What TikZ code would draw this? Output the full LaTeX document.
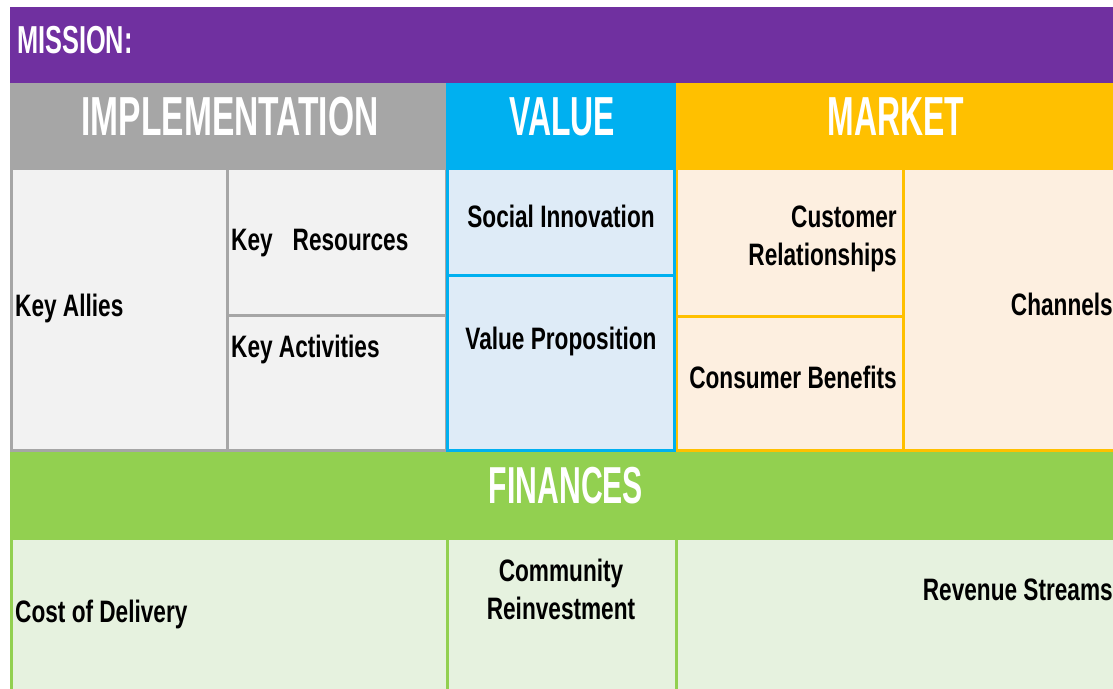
\documentclass[tikz,border=0pt]{standalone}
\usepackage{fontspec}
\setmainfont{Liberation Sans}
\newfontfamily\bannerfont{Liberation Sans Bold}[FakeStretch=0.58]
\newfontfamily\missionfont{Liberation Sans Bold}[FakeStretch=0.65]
\newfontfamily\cellfont{Liberation Sans Bold}[FakeStretch=0.73]
\usetikzlibrary{positioning}
\definecolor{missionPurple}{HTML}{7030A0}
\definecolor{implGray}{HTML}{A6A6A6}
\definecolor{valueBlue}{HTML}{00B0F0}
\definecolor{marketGold}{HTML}{FFC000}
\definecolor{financeGreen}{HTML}{92D050}
\definecolor{implFill}{HTML}{F2F2F2}
\definecolor{valueFill}{HTML}{DEEBF7}
\definecolor{marketFill}{HTML}{FDEFE0}
\definecolor{financeFill}{HTML}{E6F2DF}
\tikzset{
  cv/bar/.style={rectangle, draw=none, anchor=north west,
    inner sep=0pt, outer sep=0pt},
  cv/cell/.style={rectangle, anchor=north west, inner sep=0pt,
    outer sep=0pt, line width=3pt},
  cv/impl/.style={cv/cell, draw=implGray, fill=implFill},
  cv/val/.style={cv/cell, draw=valueBlue, fill=valueFill},
  cv/mkt/.style={cv/cell, draw=marketGold, fill=marketFill},
  cv/fin/.style={cv/cell, draw=financeGreen, fill=financeFill},
  cv/head/.style={font=\bannerfont\fontsize{55}{60}\selectfont,
    text=white, inner sep=0pt, anchor=base},
  cv/txt/.style={font=\cellfont\fontsize{31}{38}\selectfont,
    text=black, inner sep=0pt}
}
\begin{document}
\begin{tikzpicture}[x=1pt, y=-1pt]
  \useasboundingbox[fill=white] (0,0) rectangle (1113,688);
  \clip (0,0) rectangle (1113,688);

  % banners
  \node[cv/bar, fill=missionPurple, minimum width=1130, minimum height=76]
        at (10,7) (mission) {};
  \node[cv/bar, fill=implGray, minimum width=436, minimum height=85]
        at (10,83) (implHead) {};
  \node[cv/bar, fill=valueBlue, minimum width=230, minimum height=85]
        at (446,83) (valueHead) {};
  \node[cv/bar, fill=marketGold, minimum width=464, minimum height=85]
        at (676,83) (marketHead) {};
  \node[cv/bar, fill=financeGreen, minimum width=1130, minimum height=86]
        at (10,452) (financeHead) {};

  % implementation cells
  \node[cv/impl, minimum width=216, minimum height=282.5] at (11.5,168) (allies) {};
  \node[cv/impl, minimum width=218.5, minimum height=147.5] at (227.5,168) (resources) {};
  \node[cv/impl, minimum width=218.5, minimum height=135] at (227.5,315.5) (activities) {};
  % market cells
  \node[cv/mkt, minimum width=227, minimum height=148] at (676,168) (relations) {};
  \node[cv/mkt, minimum width=227, minimum height=134.5] at (676,316) (benefits) {};
  \node[cv/mkt, minimum width=237, minimum height=282.5] at (903,168) (channels) {};
  % value cells
  \node[cv/val, minimum width=227, minimum height=107.5] at (447.5,168) (innovation) {};
  \node[cv/val, minimum width=227, minimum height=175] at (447.5,275.5) (proposition) {};
  % finance cells
  \node[cv/fin, minimum width=436, minimum height=160] at (11.5,538) (cost) {};
  \node[cv/fin, minimum width=228.5, minimum height=160] at (447.5,538) (reinvest) {};
  \node[cv/fin, minimum width=464, minimum height=160] at (676,538) (revenue) {};

  % headings
  \node[font=\missionfont\fontsize{39}{44}\selectfont, text=white,
        inner sep=0pt, anchor=base west] at (17,53) (missionTxt) {MISSION:};
  \node[cv/head] at (230,135) (implTxt)
        {\addfontfeature{FakeStretch=0.61}IMPLEMENTATION};
  \node[cv/head] at (562,135) (valueTxt) {VALUE};
  \node[cv/head] at (896,135) (marketTxt) {MARKET};
  \node[cv/head, font=\bannerfont\fontsize{52}{56}\selectfont] at (566,503)
        (financeTxt) {FINANCES};

  % cell texts
  \node[cv/txt, anchor=base west] at (15,316) (alliesTxt) {Key Allies};
  \node[cv/txt, anchor=base west] at (231,250) (resourcesTxt)
        {Key\hspace{20pt}Resources};
  \node[cv/txt, anchor=base west] at (231,357) (activitiesTxt) {Key Activities};
  \node[cv/txt, anchor=base] at (561,227) (innovationTxt) {Social Innovation};
  \node[cv/txt, anchor=base] at (561,349) (propositionTxt) {Value Proposition};
  \node[cv/txt, anchor=base east, align=right] at (897,265) (relationsTxt)
        {Customer\\Relationships};
  \node[cv/txt, anchor=base east] at (897,388) (benefitsTxt) {Consumer Benefits};
  \node[cv/txt, anchor=base east] at (1113,315) (channelsTxt) {Channels};
  \node[cv/txt, anchor=base west] at (15,622) (costTxt) {Cost of Delivery};
  \node[cv/txt, anchor=base, align=center] at (561,619) (reinvestTxt)
        {Community\\Reinvestment};
  \node[cv/txt, anchor=base east] at (1113,600) (revenueTxt) {Revenue Streams};
\end{tikzpicture}
\end{document}
